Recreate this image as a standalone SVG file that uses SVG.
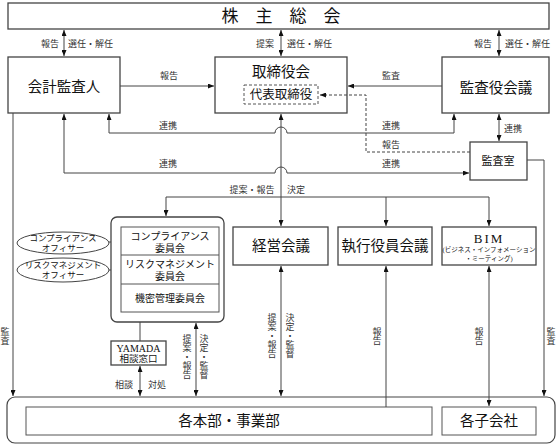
<svg xmlns="http://www.w3.org/2000/svg" width="557" height="445" viewBox="0 0 557 445">
<defs>
<marker id="arr" viewBox="0 0 6 5" refX="6" refY="2.5" markerWidth="6" markerHeight="5" markerUnits="userSpaceOnUse" orient="auto-start-reverse">
<path d="M0,0 L6,2.5 L0,5 z" fill="#111"/>
</marker>
<style>
.box{fill:#fff;stroke:#444;stroke-width:1.3}
.ln{fill:none;stroke:#444;stroke-width:1}
.dash{fill:none;stroke:#444;stroke-width:1;stroke-dasharray:3,2}
text{font-family:"Liberation Serif","Noto Sans CJK JP",serif;fill:#111}
.t15{font-size:14.5px;text-anchor:middle}
.t11{font-size:10px;text-anchor:middle}
.lb{font-size:9px;fill:#333}
.c{text-anchor:middle}
.v{font-size:9px;fill:#333;text-anchor:middle}
.el{font-size:8.5px;text-anchor:middle}
</style>
</defs>

<g id="shareholders">
<rect class="box" x="8" y="3" width="541" height="26"/>
<text x="281" y="22" style="font-size:17px;text-anchor:middle">株　主　総　会</text>
</g>

<g id="auditor">
<rect class="box" x="8" y="57" width="112" height="56"/>
<text class="t15" x="64" y="92">会計監査人</text>
</g>

<g id="board">
<rect class="box" x="215" y="57" width="132" height="56"/>
<text class="t15" x="281" y="77">取締役会</text>
<rect x="244" y="85" width="74" height="19" fill="#fff" stroke="#555" stroke-width="1" stroke-dasharray="3,2"/>
<text x="281" y="99" style="font-size:12.5px;text-anchor:middle">代表取締役</text>
</g>

<g id="auditboard">
<rect class="box" x="442" y="57" width="107" height="56"/>
<text class="t15" x="496" y="93">監査役会議</text>
</g>

<g id="auditoffice">
<rect class="box" x="470" y="142" width="57" height="38"/>
<text x="498" y="165" style="font-size:11px;text-anchor:middle">監査室</text>
</g>

<g id="committees">
<rect class="box" x="111" y="217" width="113" height="105" rx="6"/>
<rect x="121" y="227" width="98" height="85" fill="#fff" stroke="#555" stroke-width="1"/>
<line x1="121" y1="255" x2="219" y2="255" stroke="#555" stroke-width="1"/>
<line x1="121" y1="284" x2="219" y2="284" stroke="#555" stroke-width="1"/>
<text class="t11" x="170" y="240">コンプライアンス</text>
<text class="t11" x="170" y="252">委員会</text>
<text class="t11" x="170" y="268">リスクマネジメント</text>
<text class="t11" x="170" y="280">委員会</text>
<text class="t11" x="170" y="302">機密管理委員会</text>
</g>

<g id="compliance-officer">
<ellipse cx="63" cy="243" rx="46" ry="11" fill="#fff" stroke="#444" stroke-width="1"/>
<text class="el" x="63" y="241">コンプライアンス</text>
<text class="el" x="63" y="251">オフィサー</text>
</g>

<g id="risk-officer">
<ellipse cx="63" cy="270" rx="46" ry="12" fill="#fff" stroke="#444" stroke-width="1"/>
<text class="el" x="63" y="268">リスクマネジメント</text>
<text class="el" x="63" y="278">オフィサー</text>
</g>

<g id="management">
<rect class="box" x="233" y="227" width="95" height="38"/>
<text class="t15" x="281" y="251">経営会議</text>
</g>

<g id="executive">
<rect class="box" x="338" y="227" width="94" height="38"/>
<text class="t15" x="385" y="251">執行役員会議</text>
</g>

<g id="bim">
<rect class="box" x="442" y="227" width="94" height="38"/>
<text x="489" y="243" style="font-size:13px;text-anchor:middle;letter-spacing:2px">BIM</text>
<text x="489" y="252" style="font-size:6.5px;text-anchor:middle">(ビジネス・インフォメーション</text>
<text x="489" y="261" style="font-size:6.5px;text-anchor:middle">・ミーティング)</text>
</g>

<g id="yamada">
<rect class="box" x="111" y="341" width="55" height="24"/>
<text x="138.5" y="352" style="font-size:10px;text-anchor:middle">YAMADA</text>
<text x="138.5" y="362" style="font-size:9.5px;text-anchor:middle">相談窓口</text>
</g>

<g id="group">
<rect x="7" y="397" width="548" height="46" rx="8" fill="#fff" stroke="#444" stroke-width="1.2"/>
</g>

<g id="divisions">
<rect x="26" y="407" width="406" height="28" fill="#fff" stroke="#555" stroke-width="1"/>
<text class="t15" x="229" y="426">各本部・事業部</text>
</g>

<g id="subsidiaries">
<rect x="442" y="407" width="94" height="28" fill="#fff" stroke="#555" stroke-width="1"/>
<text class="t15" x="489" y="426">各子会社</text>
</g>

<g id="connectors">
<path class="ln" d="M64,30 L64,56" marker-start="url(#arr)" marker-end="url(#arr)"/>
<path class="ln" d="M281,30 L281,56" marker-start="url(#arr)" marker-end="url(#arr)"/>
<path class="ln" d="M499,30 L499,56" marker-start="url(#arr)" marker-end="url(#arr)"/>
<path class="ln" d="M120,86 L214,86" marker-end="url(#arr)"/>
<path class="ln" d="M442,86 L348,86" marker-end="url(#arr)"/>
<path class="dash" d="M470,152 L366,152 L366,95 L320,95" marker-end="url(#arr)"/>
<path class="ln" d="M109,114 L109,133 L275,133 A6,6 0 0 1 287,133 L454,133 L454,114" marker-start="url(#arr)" marker-end="url(#arr)"/>
<path class="ln" d="M64,114 L64,173 L275,173 A6,6 0 0 1 287,173 L469,173" marker-start="url(#arr)" marker-end="url(#arr)"/>
<path class="ln" d="M281,114 L281,226" marker-start="url(#arr)" marker-end="url(#arr)"/>
<path class="ln" d="M166,216 L166,197 L489,197 L489,226" marker-start="url(#arr)" marker-end="url(#arr)"/>
<path class="ln" d="M386,197 L386,226" marker-end="url(#arr)"/>
<path class="ln" d="M499,114 L499,141" marker-start="url(#arr)" marker-end="url(#arr)"/>
<path class="ln" d="M527,160 L544,160 L544,396" marker-end="url(#arr)"/>
<path class="ln" d="M13,113 L13,396" marker-end="url(#arr)"/>
<path class="ln" d="M140,322 L140,341"/>
<path class="ln" d="M140,366 L140,396" marker-start="url(#arr)" marker-end="url(#arr)"/>
<path class="ln" d="M196,323 L196,396" marker-start="url(#arr)" marker-end="url(#arr)"/>
<path class="ln" d="M281,266 L281,396" marker-start="url(#arr)" marker-end="url(#arr)"/>
<path class="ln" d="M386,266 L386,407" marker-start="url(#arr)"/>
<path class="ln" d="M489,266 L489,406" marker-start="url(#arr)" marker-end="url(#arr)"/>
<path class="ln" d="M109,242 L111,242"/>
<path class="ln" d="M109,270 L111,270"/>

<text class="lb c" x="50" y="47">報告</text>
<text class="lb" x="68" y="47">選任・解任</text>
<text class="lb c" x="265" y="47">提案</text>
<text class="lb" x="287" y="47">選任・解任</text>
<text class="lb c" x="483" y="47">報告</text>
<text class="lb" x="505" y="47">選任・解任</text>
<text class="lb c" x="169" y="79">報告</text>
<text class="lb c" x="391" y="79">監査</text>
<text class="lb c" x="168" y="129">連携</text>
<text class="lb c" x="391" y="129">連携</text>
<text class="lb c" x="391" y="148">報告</text>
<text class="lb c" x="168" y="167">連携</text>
<text class="lb c" x="391" y="167">連携</text>
<text class="lb" x="504" y="132">連携</text>
<text class="lb c" x="252" y="193">提案・報告</text>
<text class="lb c" x="296" y="193">決定</text>
<text class="lb c" x="124" y="388">相談</text>
<text class="lb c" x="157" y="388">対処</text>

<text class="v" x="187" y="342"><tspan x="187">提</tspan><tspan x="187" dy="9">案</tspan><tspan x="187" dy="9">・</tspan><tspan x="187" dy="9">報</tspan><tspan x="187" dy="9">告</tspan></text>
<text class="v" x="204" y="342"><tspan x="204">決</tspan><tspan x="204" dy="9">定</tspan><tspan x="204" dy="9">・</tspan><tspan x="204" dy="9">監</tspan><tspan x="204" dy="9">督</tspan></text>
<text class="v" x="272" y="321"><tspan x="272">提</tspan><tspan x="272" dy="9">案</tspan><tspan x="272" dy="9">・</tspan><tspan x="272" dy="9">報</tspan><tspan x="272" dy="9">告</tspan></text>
<text class="v" x="290" y="321"><tspan x="290">決</tspan><tspan x="290" dy="9">定</tspan><tspan x="290" dy="9">・</tspan><tspan x="290" dy="9">監</tspan><tspan x="290" dy="9">督</tspan></text>
<text class="v" x="377" y="335"><tspan x="377">報</tspan><tspan x="377" dy="9">告</tspan></text>
<text class="v" x="479" y="335"><tspan x="479">報</tspan><tspan x="479" dy="9">告</tspan></text>
<text class="v" x="551" y="335"><tspan x="551">監</tspan><tspan x="551" dy="9">査</tspan></text>
<text class="v" x="5" y="335"><tspan x="5">監</tspan><tspan x="5" dy="9">査</tspan></text>
</g>
</svg>
